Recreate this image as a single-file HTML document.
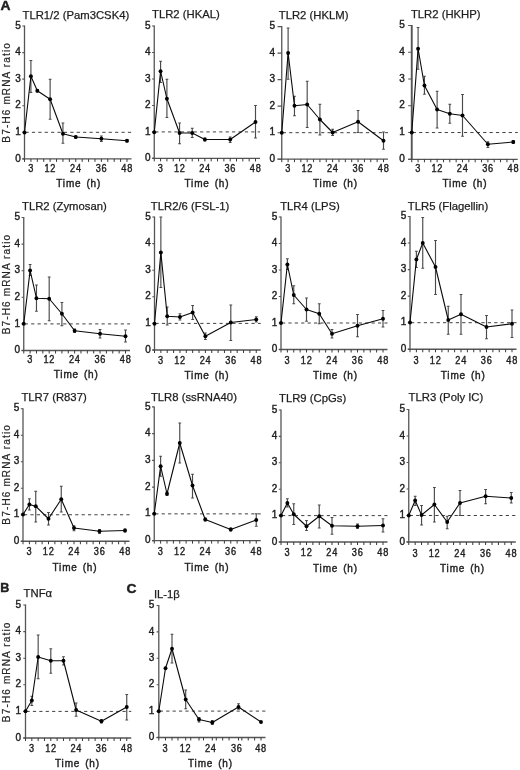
<!DOCTYPE html><html><head><meta charset="utf-8"><style>html,body{margin:0;padding:0;background:#fff;}svg{display:block;filter:blur(0.3px);}text{font-family:"Liberation Sans",sans-serif;stroke:#1e1e1e;stroke-width:0.4px;}</style></head><body>
<svg width="520" height="770" viewBox="0 0 520 770">
<rect width="520" height="770" fill="#fff"/>
<text transform="translate(0.6 10.4) scale(1.1 1)" font-size="12.6" font-weight="bold" fill="#1e1e1e">A</text>
<text x="0.3" y="592.0" font-size="12.6" font-weight="bold" fill="#1e1e1e">B</text>
<text transform="translate(126.5 592.8) scale(1.1 1)" font-size="12.6" font-weight="bold" fill="#1e1e1e">C</text>
<g><text x="22.5" y="18.5" font-size="11.3" fill="#1e1e1e" style="stroke-width:0.25px">TLR1/2 (Pam3CSK4)</text><path d="M24.5 25.5V158.9" stroke="#555555" stroke-width="1.3" fill="none"/><path d="M22.3 158.9H131.5" stroke="#555555" stroke-width="1.3" fill="none"/><text transform="translate(20.9 161.5)" font-size="10" text-anchor="end" fill="#1e1e1e">0</text><text transform="translate(20.9 134.92)" font-size="10" text-anchor="end" fill="#1e1e1e">1</text><text transform="translate(20.9 108.34)" font-size="10" text-anchor="end" fill="#1e1e1e">2</text><text transform="translate(20.9 81.76)" font-size="10" text-anchor="end" fill="#1e1e1e">3</text><text transform="translate(20.9 55.18)" font-size="10" text-anchor="end" fill="#1e1e1e">4</text><text transform="translate(20.9 28.6)" font-size="10" text-anchor="end" fill="#1e1e1e">5</text><path d="M22.3 158.9H24.5M22.3 132.32H24.5M22.3 105.74H24.5M22.3 79.16H24.5M22.3 52.58H24.5M22.3 26H24.5" stroke="#555555" stroke-width="1.1" fill="none"/><path d="M24.5 158.9v3M30.91 158.9v3M37.31 158.9v3M43.72 158.9v3M50.12 158.9v3M56.53 158.9v3M62.94 158.9v3M69.34 158.9v3M75.75 158.9v3M82.16 158.9v3M88.56 158.9v3M94.97 158.9v3M101.38 158.9v3M107.78 158.9v3M114.19 158.9v3M120.59 158.9v3M127 158.9v3" stroke="#3a3a3a" stroke-width="1" fill="none"/><text transform="translate(31.06 172.3) scale(0.9 1)" font-size="10.2" letter-spacing="0.8" text-anchor="middle" fill="#1e1e1e">3</text><text transform="translate(50.27 172.3) scale(0.9 1)" font-size="10.2" letter-spacing="0.8" text-anchor="middle" fill="#1e1e1e">12</text><text transform="translate(75.9 172.3) scale(0.9 1)" font-size="10.2" letter-spacing="0.8" text-anchor="middle" fill="#1e1e1e">24</text><text transform="translate(101.53 172.3) scale(0.9 1)" font-size="10.2" letter-spacing="0.8" text-anchor="middle" fill="#1e1e1e">36</text><text transform="translate(127.15 172.3) scale(0.9 1)" font-size="10.2" letter-spacing="0.8" text-anchor="middle" fill="#1e1e1e">48</text><text x="56.25" y="187.35" font-size="10" letter-spacing="0.85" word-spacing="1.3" fill="#1e1e1e">Time (h)</text><path d="M25.5 132.32H131.5" stroke="#2a2a2a" stroke-width="0.9" stroke-dasharray="3.2 3.2" fill="none"/><path d="M30.91 60.5V92.5M29.51 60.5h2.8M29.51 92.5h2.8M37.31 89.5V92M35.91 89.5h2.8M35.91 92h2.8M50.12 79.25V119.25M48.73 79.25h2.8M48.73 119.25h2.8M62.94 123V143.25M61.54 123h2.8M61.54 143.25h2.8M75.75 136V138.2M74.35 136h2.8M74.35 138.2h2.8M101.38 136V141.5M99.97 136h2.8M99.97 141.5h2.8M127 139.5V142M125.6 139.5h2.8M125.6 142h2.8" stroke="#4a4a4a" stroke-width="1.15" fill="none"/><polyline points="24.5,132.5 30.91,76.25 37.31,90.75 50.12,99.25 62.94,133.75 75.75,137 101.38,138.75 127,140.75" stroke="#0a0a0a" stroke-width="1.1" fill="none" stroke-linejoin="round"/><circle cx="24.5" cy="132.5" r="1.95" fill="#000"/><circle cx="30.91" cy="76.25" r="1.95" fill="#000"/><circle cx="37.31" cy="90.75" r="1.95" fill="#000"/><circle cx="50.12" cy="99.25" r="1.95" fill="#000"/><circle cx="62.94" cy="133.75" r="1.95" fill="#000"/><circle cx="75.75" cy="137" r="1.95" fill="#000"/><circle cx="101.38" cy="138.75" r="1.95" fill="#000"/><circle cx="127" cy="140.75" r="1.95" fill="#000"/></g>
<g><text x="152" y="18.3" font-size="11.3" fill="#1e1e1e" style="stroke-width:0.25px">TLR2 (HKAL)</text><path d="M154.25 25.5V158.4" stroke="#555555" stroke-width="1.3" fill="none"/><path d="M152.05 158.4H260" stroke="#555555" stroke-width="1.3" fill="none"/><text transform="translate(150.65 161)" font-size="10" text-anchor="end" fill="#1e1e1e">0</text><text transform="translate(150.65 134.52)" font-size="10" text-anchor="end" fill="#1e1e1e">1</text><text transform="translate(150.65 108.04)" font-size="10" text-anchor="end" fill="#1e1e1e">2</text><text transform="translate(150.65 81.56)" font-size="10" text-anchor="end" fill="#1e1e1e">3</text><text transform="translate(150.65 55.08)" font-size="10" text-anchor="end" fill="#1e1e1e">4</text><text transform="translate(150.65 28.6)" font-size="10" text-anchor="end" fill="#1e1e1e">5</text><path d="M152.05 158.4H154.25M152.05 131.92H154.25M152.05 105.44H154.25M152.05 78.96H154.25M152.05 52.48H154.25M152.05 26H154.25" stroke="#555555" stroke-width="1.1" fill="none"/><path d="M154.25 158.4v3M160.58 158.4v3M166.91 158.4v3M173.23 158.4v3M179.56 158.4v3M185.89 158.4v3M192.22 158.4v3M198.55 158.4v3M204.88 158.4v3M211.2 158.4v3M217.53 158.4v3M223.86 158.4v3M230.19 158.4v3M236.52 158.4v3M242.84 158.4v3M249.17 158.4v3M255.5 158.4v3" stroke="#3a3a3a" stroke-width="1" fill="none"/><text transform="translate(160.73 171.8) scale(0.9 1)" font-size="10.2" letter-spacing="0.8" text-anchor="middle" fill="#1e1e1e">3</text><text transform="translate(179.71 171.8) scale(0.9 1)" font-size="10.2" letter-spacing="0.8" text-anchor="middle" fill="#1e1e1e">12</text><text transform="translate(205.03 171.8) scale(0.9 1)" font-size="10.2" letter-spacing="0.8" text-anchor="middle" fill="#1e1e1e">24</text><text transform="translate(230.34 171.8) scale(0.9 1)" font-size="10.2" letter-spacing="0.8" text-anchor="middle" fill="#1e1e1e">36</text><text transform="translate(255.65 171.8) scale(0.9 1)" font-size="10.2" letter-spacing="0.8" text-anchor="middle" fill="#1e1e1e">48</text><text x="184.5" y="186.6" font-size="10" letter-spacing="0.85" word-spacing="1.3" fill="#1e1e1e">Time (h)</text><path d="M155.25 131.92H260" stroke="#2a2a2a" stroke-width="0.9" stroke-dasharray="3.2 3.2" fill="none"/><path d="M160.58 61.25V82.5M159.18 61.25h2.8M159.18 82.5h2.8M166.91 79.25V117.5M165.51 79.25h2.8M165.51 117.5h2.8M179.56 123V143.75M178.16 123h2.8M178.16 143.75h2.8M192.22 128.25V137.5M190.82 128.25h2.8M190.82 137.5h2.8M204.88 138V141M203.47 138h2.8M203.47 141h2.8M230.19 137V142.5M228.79 137h2.8M228.79 142.5h2.8M255.5 105.5V138M254.1 105.5h2.8M254.1 138h2.8" stroke="#4a4a4a" stroke-width="1.15" fill="none"/><polyline points="154.25,132.2 160.58,71.25 166.91,98.75 179.56,133 192.22,133 204.88,139.5 230.19,139.5 255.5,122" stroke="#0a0a0a" stroke-width="1.1" fill="none" stroke-linejoin="round"/><circle cx="154.25" cy="132.2" r="1.95" fill="#000"/><circle cx="160.58" cy="71.25" r="1.95" fill="#000"/><circle cx="166.91" cy="98.75" r="1.95" fill="#000"/><circle cx="179.56" cy="133" r="1.95" fill="#000"/><circle cx="192.22" cy="133" r="1.95" fill="#000"/><circle cx="204.88" cy="139.5" r="1.95" fill="#000"/><circle cx="230.19" cy="139.5" r="1.95" fill="#000"/><circle cx="255.5" cy="122" r="1.95" fill="#000"/></g>
<g><text x="278.75" y="18.8" font-size="11.3" fill="#1e1e1e" style="stroke-width:0.25px">TLR2 (HKLM)</text><path d="M281.75 26.1V159.2" stroke="#555555" stroke-width="1.3" fill="none"/><path d="M277.55 159.2H388" stroke="#555555" stroke-width="1.3" fill="none"/><text transform="translate(275.15 161.8)" font-size="10" text-anchor="end" fill="#1e1e1e">0</text><text transform="translate(275.15 135.28)" font-size="10" text-anchor="end" fill="#1e1e1e">1</text><text transform="translate(275.15 108.76)" font-size="10" text-anchor="end" fill="#1e1e1e">2</text><text transform="translate(275.15 82.24)" font-size="10" text-anchor="end" fill="#1e1e1e">3</text><text transform="translate(275.15 55.72)" font-size="10" text-anchor="end" fill="#1e1e1e">4</text><text transform="translate(275.15 29.2)" font-size="10" text-anchor="end" fill="#1e1e1e">5</text><path d="M277.55 159.2H281.75M277.55 132.68H281.75M277.55 106.16H281.75M277.55 79.64H281.75M277.55 53.12H281.75M277.55 26.6H281.75" stroke="#555555" stroke-width="1.1" fill="none"/><path d="M281.75 159.2v3M288.11 159.2v3M294.47 159.2v3M300.83 159.2v3M307.19 159.2v3M313.55 159.2v3M319.91 159.2v3M326.27 159.2v3M332.62 159.2v3M338.98 159.2v3M345.34 159.2v3M351.7 159.2v3M358.06 159.2v3M364.42 159.2v3M370.78 159.2v3M377.14 159.2v3M383.5 159.2v3" stroke="#3a3a3a" stroke-width="1" fill="none"/><text transform="translate(288.26 172.3) scale(0.9 1)" font-size="10.2" letter-spacing="0.8" text-anchor="middle" fill="#1e1e1e">3</text><text transform="translate(307.34 172.3) scale(0.9 1)" font-size="10.2" letter-spacing="0.8" text-anchor="middle" fill="#1e1e1e">12</text><text transform="translate(332.77 172.3) scale(0.9 1)" font-size="10.2" letter-spacing="0.8" text-anchor="middle" fill="#1e1e1e">24</text><text transform="translate(358.21 172.3) scale(0.9 1)" font-size="10.2" letter-spacing="0.8" text-anchor="middle" fill="#1e1e1e">36</text><text transform="translate(383.65 172.3) scale(0.9 1)" font-size="10.2" letter-spacing="0.8" text-anchor="middle" fill="#1e1e1e">48</text><text x="313" y="186.6" font-size="10" letter-spacing="0.85" word-spacing="1.3" fill="#1e1e1e">Time (h)</text><path d="M282.75 132.68H388" stroke="#2a2a2a" stroke-width="0.9" stroke-dasharray="3.2 3.2" fill="none"/><path d="M288.11 28V79.25M286.71 28h2.8M286.71 79.25h2.8M294.47 96.25V115.75M293.07 96.25h2.8M293.07 115.75h2.8M307.19 81.25V127.5M305.79 81.25h2.8M305.79 127.5h2.8M319.91 104.25V135M318.51 104.25h2.8M318.51 135h2.8M332.62 129.25V135.5M331.23 129.25h2.8M331.23 135.5h2.8M358.06 110.5V132.5M356.66 110.5h2.8M356.66 132.5h2.8M383.5 132V149.25M382.1 132h2.8M382.1 149.25h2.8" stroke="#4a4a4a" stroke-width="1.15" fill="none"/><polyline points="281.75,132.8 288.11,53 294.47,105.75 307.19,104.5 319.91,119.5 332.62,132.5 358.06,121.75 383.5,140.75" stroke="#0a0a0a" stroke-width="1.1" fill="none" stroke-linejoin="round"/><circle cx="281.75" cy="132.8" r="1.95" fill="#000"/><circle cx="288.11" cy="53" r="1.95" fill="#000"/><circle cx="294.47" cy="105.75" r="1.95" fill="#000"/><circle cx="307.19" cy="104.5" r="1.95" fill="#000"/><circle cx="319.91" cy="119.5" r="1.95" fill="#000"/><circle cx="332.62" cy="132.5" r="1.95" fill="#000"/><circle cx="358.06" cy="121.75" r="1.95" fill="#000"/><circle cx="383.5" cy="140.75" r="1.95" fill="#000"/></g>
<g><text x="410.9" y="18.3" font-size="11.3" fill="#1e1e1e" style="stroke-width:0.25px">TLR2 (HKHP)</text><path d="M411.75 25V159.3" stroke="#555555" stroke-width="1.9" fill="none"/><path d="M408.15 159.3H517.75" stroke="#555555" stroke-width="1.3" fill="none"/><text transform="translate(404.75 161.9)" font-size="10" text-anchor="end" fill="#1e1e1e">0</text><text transform="translate(404.75 135.14)" font-size="10" text-anchor="end" fill="#1e1e1e">1</text><text transform="translate(404.75 108.38)" font-size="10" text-anchor="end" fill="#1e1e1e">2</text><text transform="translate(404.75 81.62)" font-size="10" text-anchor="end" fill="#1e1e1e">3</text><text transform="translate(404.75 54.86)" font-size="10" text-anchor="end" fill="#1e1e1e">4</text><text transform="translate(404.75 28.1)" font-size="10" text-anchor="end" fill="#1e1e1e">5</text><path d="M408.15 159.3H411.75M408.15 132.54H411.75M408.15 105.78H411.75M408.15 79.02H411.75M408.15 52.26H411.75M408.15 25.5H411.75" stroke="#555555" stroke-width="1.1" fill="none"/><path d="M411.75 159.3v3M418.09 159.3v3M424.44 159.3v3M430.78 159.3v3M437.12 159.3v3M443.47 159.3v3M449.81 159.3v3M456.16 159.3v3M462.5 159.3v3M468.84 159.3v3M475.19 159.3v3M481.53 159.3v3M487.88 159.3v3M494.22 159.3v3M500.56 159.3v3M506.91 159.3v3M513.25 159.3v3" stroke="#3a3a3a" stroke-width="1" fill="none"/><text transform="translate(418.24 172.3) scale(0.9 1)" font-size="10.2" letter-spacing="0.8" text-anchor="middle" fill="#1e1e1e">3</text><text transform="translate(437.27 172.3) scale(0.9 1)" font-size="10.2" letter-spacing="0.8" text-anchor="middle" fill="#1e1e1e">12</text><text transform="translate(462.65 172.3) scale(0.9 1)" font-size="10.2" letter-spacing="0.8" text-anchor="middle" fill="#1e1e1e">24</text><text transform="translate(488.02 172.3) scale(0.9 1)" font-size="10.2" letter-spacing="0.8" text-anchor="middle" fill="#1e1e1e">36</text><text transform="translate(513.4 172.3) scale(0.9 1)" font-size="10.2" letter-spacing="0.8" text-anchor="middle" fill="#1e1e1e">48</text><text x="442.5" y="186.6" font-size="10" letter-spacing="0.85" word-spacing="1.3" fill="#1e1e1e">Time (h)</text><path d="M412.75 132.54H517.75" stroke="#2a2a2a" stroke-width="0.9" stroke-dasharray="3.2 3.2" fill="none"/><path d="M418.09 27.5V69.25M416.69 27.5h2.8M416.69 69.25h2.8M424.44 76.25V94.25M423.04 76.25h2.8M423.04 94.25h2.8M437.12 91.25V128M435.73 91.25h2.8M435.73 128h2.8M449.81 104.25V123.25M448.41 104.25h2.8M448.41 123.25h2.8M462.5 94.5V136.25M461.1 94.5h2.8M461.1 136.25h2.8M487.88 141.75V147.5M486.48 141.75h2.8M486.48 147.5h2.8M513.25 140.5V143.5M511.85 140.5h2.8M511.85 143.5h2.8" stroke="#4a4a4a" stroke-width="1.15" fill="none"/><polyline points="411.75,132.5 418.09,48.75 424.44,85.5 437.12,109.5 449.81,113.75 462.5,115.5 487.88,144.25 513.25,142" stroke="#0a0a0a" stroke-width="1.1" fill="none" stroke-linejoin="round"/><circle cx="411.75" cy="132.5" r="1.95" fill="#000"/><circle cx="418.09" cy="48.75" r="1.95" fill="#000"/><circle cx="424.44" cy="85.5" r="1.95" fill="#000"/><circle cx="437.12" cy="109.5" r="1.95" fill="#000"/><circle cx="449.81" cy="113.75" r="1.95" fill="#000"/><circle cx="462.5" cy="115.5" r="1.95" fill="#000"/><circle cx="487.88" cy="144.25" r="1.95" fill="#000"/><circle cx="513.25" cy="142" r="1.95" fill="#000"/></g>
<g><text x="22" y="210" font-size="11.3" fill="#1e1e1e" style="stroke-width:0.25px">TLR2 (Zymosan)</text><path d="M23.75 217V350.5" stroke="#555555" stroke-width="1.3" fill="none"/><path d="M21.55 350.5H130" stroke="#555555" stroke-width="1.3" fill="none"/><text transform="translate(20.15 353.1)" font-size="10" text-anchor="end" fill="#1e1e1e">0</text><text transform="translate(20.15 326.5)" font-size="10" text-anchor="end" fill="#1e1e1e">1</text><text transform="translate(20.15 299.9)" font-size="10" text-anchor="end" fill="#1e1e1e">2</text><text transform="translate(20.15 273.3)" font-size="10" text-anchor="end" fill="#1e1e1e">3</text><text transform="translate(20.15 246.7)" font-size="10" text-anchor="end" fill="#1e1e1e">4</text><text transform="translate(20.15 220.1)" font-size="10" text-anchor="end" fill="#1e1e1e">5</text><path d="M21.55 350.5H23.75M21.55 323.9H23.75M21.55 297.3H23.75M21.55 270.7H23.75M21.55 244.1H23.75M21.55 217.5H23.75" stroke="#555555" stroke-width="1.1" fill="none"/><path d="M23.75 350.5v3M30.11 350.5v3M36.47 350.5v3M42.83 350.5v3M49.19 350.5v3M55.55 350.5v3M61.91 350.5v3M68.27 350.5v3M74.62 350.5v3M80.98 350.5v3M87.34 350.5v3M93.7 350.5v3M100.06 350.5v3M106.42 350.5v3M112.78 350.5v3M119.14 350.5v3M125.5 350.5v3" stroke="#3a3a3a" stroke-width="1" fill="none"/><text transform="translate(30.26 363.3) scale(0.9 1)" font-size="10.2" letter-spacing="0.8" text-anchor="middle" fill="#1e1e1e">3</text><text transform="translate(49.34 363.3) scale(0.9 1)" font-size="10.2" letter-spacing="0.8" text-anchor="middle" fill="#1e1e1e">12</text><text transform="translate(74.78 363.3) scale(0.9 1)" font-size="10.2" letter-spacing="0.8" text-anchor="middle" fill="#1e1e1e">24</text><text transform="translate(100.21 363.3) scale(0.9 1)" font-size="10.2" letter-spacing="0.8" text-anchor="middle" fill="#1e1e1e">36</text><text transform="translate(125.65 363.3) scale(0.9 1)" font-size="10.2" letter-spacing="0.8" text-anchor="middle" fill="#1e1e1e">48</text><text x="53.75" y="377.85" font-size="10" letter-spacing="0.85" word-spacing="1.3" fill="#1e1e1e">Time (h)</text><path d="M24.75 323.9H130" stroke="#2a2a2a" stroke-width="0.9" stroke-dasharray="3.2 3.2" fill="none"/><path d="M30.11 264.5V275.5M28.71 264.5h2.8M28.71 275.5h2.8M36.47 285V311.25M35.07 285h2.8M35.07 311.25h2.8M49.19 277V320.75M47.79 277h2.8M47.79 320.75h2.8M61.91 302.5V325.75M60.51 302.5h2.8M60.51 325.75h2.8M74.62 329V332.5M73.22 329h2.8M73.22 332.5h2.8M100.06 329.5V338M98.66 329.5h2.8M98.66 338h2.8M125.5 330V342M124.1 330h2.8M124.1 342h2.8" stroke="#4a4a4a" stroke-width="1.15" fill="none"/><polyline points="23.75,323.75 30.11,270.5 36.47,298.25 49.19,298.75 61.91,313.75 74.62,330.75 100.06,333.75 125.5,336.25" stroke="#0a0a0a" stroke-width="1.1" fill="none" stroke-linejoin="round"/><circle cx="23.75" cy="323.75" r="1.95" fill="#000"/><circle cx="30.11" cy="270.5" r="1.95" fill="#000"/><circle cx="36.47" cy="298.25" r="1.95" fill="#000"/><circle cx="49.19" cy="298.75" r="1.95" fill="#000"/><circle cx="61.91" cy="313.75" r="1.95" fill="#000"/><circle cx="74.62" cy="330.75" r="1.95" fill="#000"/><circle cx="100.06" cy="333.75" r="1.95" fill="#000"/><circle cx="125.5" cy="336.25" r="1.95" fill="#000"/></g>
<g><text x="150.8" y="209.6" font-size="11.3" fill="#1e1e1e" style="stroke-width:0.25px">TLR2/6 (FSL-1)</text><path d="M154.5 216.5V350" stroke="#555555" stroke-width="1.3" fill="none"/><path d="M152.3 350H260.75" stroke="#555555" stroke-width="1.3" fill="none"/><text transform="translate(150.9 352.6)" font-size="10" text-anchor="end" fill="#1e1e1e">0</text><text transform="translate(150.9 326)" font-size="10" text-anchor="end" fill="#1e1e1e">1</text><text transform="translate(150.9 299.4)" font-size="10" text-anchor="end" fill="#1e1e1e">2</text><text transform="translate(150.9 272.8)" font-size="10" text-anchor="end" fill="#1e1e1e">3</text><text transform="translate(150.9 246.2)" font-size="10" text-anchor="end" fill="#1e1e1e">4</text><text transform="translate(150.9 219.6)" font-size="10" text-anchor="end" fill="#1e1e1e">5</text><path d="M152.3 350H154.5M152.3 323.4H154.5M152.3 296.8H154.5M152.3 270.2H154.5M152.3 243.6H154.5M152.3 217H154.5" stroke="#555555" stroke-width="1.1" fill="none"/><path d="M154.5 350v3M160.86 350v3M167.22 350v3M173.58 350v3M179.94 350v3M186.3 350v3M192.66 350v3M199.02 350v3M205.38 350v3M211.73 350v3M218.09 350v3M224.45 350v3M230.81 350v3M237.17 350v3M243.53 350v3M249.89 350v3M256.25 350v3" stroke="#3a3a3a" stroke-width="1" fill="none"/><text transform="translate(161.01 364.3) scale(0.9 1)" font-size="10.2" letter-spacing="0.8" text-anchor="middle" fill="#1e1e1e">3</text><text transform="translate(180.09 364.3) scale(0.9 1)" font-size="10.2" letter-spacing="0.8" text-anchor="middle" fill="#1e1e1e">12</text><text transform="translate(205.53 364.3) scale(0.9 1)" font-size="10.2" letter-spacing="0.8" text-anchor="middle" fill="#1e1e1e">24</text><text transform="translate(230.96 364.3) scale(0.9 1)" font-size="10.2" letter-spacing="0.8" text-anchor="middle" fill="#1e1e1e">36</text><text transform="translate(256.4 364.3) scale(0.9 1)" font-size="10.2" letter-spacing="0.8" text-anchor="middle" fill="#1e1e1e">48</text><text x="184.5" y="378.6" font-size="10" letter-spacing="0.85" word-spacing="1.3" fill="#1e1e1e">Time (h)</text><path d="M155.5 323.4H260.75" stroke="#2a2a2a" stroke-width="0.9" stroke-dasharray="3.2 3.2" fill="none"/><path d="M160.86 217V287.5M159.46 217h2.8M159.46 287.5h2.8M167.22 307V325M165.82 307h2.8M165.82 325h2.8M179.94 313.75V320M178.54 313.75h2.8M178.54 320h2.8M192.66 305.5V319.5M191.26 305.5h2.8M191.26 319.5h2.8M205.38 333V339.5M203.97 333h2.8M203.97 339.5h2.8M230.81 305V340.5M229.41 305h2.8M229.41 340.5h2.8M256.25 316.75V322M254.85 316.75h2.8M254.85 322h2.8" stroke="#4a4a4a" stroke-width="1.15" fill="none"/><polyline points="154.5,323.75 160.86,252.5 167.22,316.25 179.94,317 192.66,312.5 205.38,336.25 230.81,322.5 256.25,319.5" stroke="#0a0a0a" stroke-width="1.1" fill="none" stroke-linejoin="round"/><circle cx="154.5" cy="323.75" r="1.95" fill="#000"/><circle cx="160.86" cy="252.5" r="1.95" fill="#000"/><circle cx="167.22" cy="316.25" r="1.95" fill="#000"/><circle cx="179.94" cy="317" r="1.95" fill="#000"/><circle cx="192.66" cy="312.5" r="1.95" fill="#000"/><circle cx="205.38" cy="336.25" r="1.95" fill="#000"/><circle cx="230.81" cy="322.5" r="1.95" fill="#000"/><circle cx="256.25" cy="319.5" r="1.95" fill="#000"/></g>
<g><text x="280.2" y="210" font-size="11.3" fill="#1e1e1e" style="stroke-width:0.25px">TLR4 (LPS)</text><path d="M281 216.5V349.5" stroke="#555555" stroke-width="1.3" fill="none"/><path d="M278.8 349.5H387.5" stroke="#555555" stroke-width="1.3" fill="none"/><text transform="translate(277.4 352.1)" font-size="10" text-anchor="end" fill="#1e1e1e">0</text><text transform="translate(277.4 325.6)" font-size="10" text-anchor="end" fill="#1e1e1e">1</text><text transform="translate(277.4 299.1)" font-size="10" text-anchor="end" fill="#1e1e1e">2</text><text transform="translate(277.4 272.6)" font-size="10" text-anchor="end" fill="#1e1e1e">3</text><text transform="translate(277.4 246.1)" font-size="10" text-anchor="end" fill="#1e1e1e">4</text><text transform="translate(277.4 219.6)" font-size="10" text-anchor="end" fill="#1e1e1e">5</text><path d="M278.8 349.5H281M278.8 323H281M278.8 296.5H281M278.8 270H281M278.8 243.5H281M278.8 217H281" stroke="#555555" stroke-width="1.1" fill="none"/><path d="M281 349.5v3M287.38 349.5v3M293.75 349.5v3M300.12 349.5v3M306.5 349.5v3M312.88 349.5v3M319.25 349.5v3M325.62 349.5v3M332 349.5v3M338.38 349.5v3M344.75 349.5v3M351.12 349.5v3M357.5 349.5v3M363.88 349.5v3M370.25 349.5v3M376.62 349.5v3M383 349.5v3" stroke="#3a3a3a" stroke-width="1" fill="none"/><text transform="translate(287.52 363.55) scale(0.9 1)" font-size="10.2" letter-spacing="0.8" text-anchor="middle" fill="#1e1e1e">3</text><text transform="translate(306.65 363.55) scale(0.9 1)" font-size="10.2" letter-spacing="0.8" text-anchor="middle" fill="#1e1e1e">12</text><text transform="translate(332.15 363.55) scale(0.9 1)" font-size="10.2" letter-spacing="0.8" text-anchor="middle" fill="#1e1e1e">24</text><text transform="translate(357.65 363.55) scale(0.9 1)" font-size="10.2" letter-spacing="0.8" text-anchor="middle" fill="#1e1e1e">36</text><text transform="translate(383.15 363.55) scale(0.9 1)" font-size="10.2" letter-spacing="0.8" text-anchor="middle" fill="#1e1e1e">48</text><text x="313" y="379.1" font-size="10" letter-spacing="0.85" word-spacing="1.3" fill="#1e1e1e">Time (h)</text><path d="M282 323H387.5" stroke="#2a2a2a" stroke-width="0.9" stroke-dasharray="3.2 3.2" fill="none"/><path d="M287.38 258.75V269.5M285.98 258.75h2.8M285.98 269.5h2.8M293.75 285.75V303.75M292.35 285.75h2.8M292.35 303.75h2.8M306.5 298V321.25M305.1 298h2.8M305.1 321.25h2.8M319.25 303.75V323.75M317.85 303.75h2.8M317.85 323.75h2.8M332 329.5V338M330.6 329.5h2.8M330.6 338h2.8M357.5 314.5V336.75M356.1 314.5h2.8M356.1 336.75h2.8M383 310.5V327M381.6 310.5h2.8M381.6 327h2.8" stroke="#4a4a4a" stroke-width="1.15" fill="none"/><polyline points="281,323 287.38,264.5 293.75,295 306.5,309.5 319.25,313.75 332,333.75 357.5,325.75 383,318.75" stroke="#0a0a0a" stroke-width="1.1" fill="none" stroke-linejoin="round"/><circle cx="281" cy="323" r="1.95" fill="#000"/><circle cx="287.38" cy="264.5" r="1.95" fill="#000"/><circle cx="293.75" cy="295" r="1.95" fill="#000"/><circle cx="306.5" cy="309.5" r="1.95" fill="#000"/><circle cx="319.25" cy="313.75" r="1.95" fill="#000"/><circle cx="332" cy="333.75" r="1.95" fill="#000"/><circle cx="357.5" cy="325.75" r="1.95" fill="#000"/><circle cx="383" cy="318.75" r="1.95" fill="#000"/></g>
<g><text x="407.8" y="210" font-size="11.3" fill="#1e1e1e" style="stroke-width:0.25px">TLR5 (Flagellin)</text><path d="M410 216V349.25" stroke="#555555" stroke-width="1.3" fill="none"/><path d="M407.8 349.25H516.5" stroke="#555555" stroke-width="1.3" fill="none"/><text transform="translate(406.4 351.85)" font-size="10" text-anchor="end" fill="#1e1e1e">0</text><text transform="translate(406.4 325.3)" font-size="10" text-anchor="end" fill="#1e1e1e">1</text><text transform="translate(406.4 298.75)" font-size="10" text-anchor="end" fill="#1e1e1e">2</text><text transform="translate(406.4 272.2)" font-size="10" text-anchor="end" fill="#1e1e1e">3</text><text transform="translate(406.4 245.65)" font-size="10" text-anchor="end" fill="#1e1e1e">4</text><text transform="translate(406.4 219.1)" font-size="10" text-anchor="end" fill="#1e1e1e">5</text><path d="M407.8 349.25H410M407.8 322.7H410M407.8 296.15H410M407.8 269.6H410M407.8 243.05H410M407.8 216.5H410" stroke="#555555" stroke-width="1.1" fill="none"/><path d="M410 349.25v3M416.38 349.25v3M422.75 349.25v3M429.12 349.25v3M435.5 349.25v3M441.88 349.25v3M448.25 349.25v3M454.62 349.25v3M461 349.25v3M467.38 349.25v3M473.75 349.25v3M480.12 349.25v3M486.5 349.25v3M492.88 349.25v3M499.25 349.25v3M505.62 349.25v3M512 349.25v3" stroke="#3a3a3a" stroke-width="1" fill="none"/><text transform="translate(416.52 363.55) scale(0.9 1)" font-size="10.2" letter-spacing="0.8" text-anchor="middle" fill="#1e1e1e">3</text><text transform="translate(435.65 363.55) scale(0.9 1)" font-size="10.2" letter-spacing="0.8" text-anchor="middle" fill="#1e1e1e">12</text><text transform="translate(461.15 363.55) scale(0.9 1)" font-size="10.2" letter-spacing="0.8" text-anchor="middle" fill="#1e1e1e">24</text><text transform="translate(486.65 363.55) scale(0.9 1)" font-size="10.2" letter-spacing="0.8" text-anchor="middle" fill="#1e1e1e">36</text><text transform="translate(512.15 363.55) scale(0.9 1)" font-size="10.2" letter-spacing="0.8" text-anchor="middle" fill="#1e1e1e">48</text><text x="440.75" y="379.1" font-size="10" letter-spacing="0.85" word-spacing="1.3" fill="#1e1e1e">Time (h)</text><path d="M411 322.7H516.5" stroke="#2a2a2a" stroke-width="0.9" stroke-dasharray="3.2 3.2" fill="none"/><path d="M416.38 251.25V267.5M414.98 251.25h2.8M414.98 267.5h2.8M422.75 217.5V268.25M421.35 217.5h2.8M421.35 268.25h2.8M435.5 240.5V294.5M434.1 240.5h2.8M434.1 294.5h2.8M448.25 306.25V334.25M446.85 306.25h2.8M446.85 334.25h2.8M461 294.5V334.25M459.6 294.5h2.8M459.6 334.25h2.8M486.5 315.5V338.75M485.1 315.5h2.8M485.1 338.75h2.8M512 310V337.5M510.6 310h2.8M510.6 337.5h2.8" stroke="#4a4a4a" stroke-width="1.15" fill="none"/><polyline points="410,322.5 416.38,259.5 422.75,243 435.5,267 448.25,320 461,314.25 486.5,327 512,323.75" stroke="#0a0a0a" stroke-width="1.1" fill="none" stroke-linejoin="round"/><circle cx="410" cy="322.5" r="1.95" fill="#000"/><circle cx="416.38" cy="259.5" r="1.95" fill="#000"/><circle cx="422.75" cy="243" r="1.95" fill="#000"/><circle cx="435.5" cy="267" r="1.95" fill="#000"/><circle cx="448.25" cy="320" r="1.95" fill="#000"/><circle cx="461" cy="314.25" r="1.95" fill="#000"/><circle cx="486.5" cy="327" r="1.95" fill="#000"/><circle cx="512" cy="323.75" r="1.95" fill="#000"/></g>
<g><text x="21.4" y="400.8" font-size="11.3" fill="#1e1e1e" style="stroke-width:0.25px">TLR7 (R837)</text><path d="M23 408.25V541.25" stroke="#555555" stroke-width="1.3" fill="none"/><path d="M20.8 541.25H129.5" stroke="#555555" stroke-width="1.3" fill="none"/><text transform="translate(19.4 543.85)" font-size="10" text-anchor="end" fill="#1e1e1e">0</text><text transform="translate(19.4 517.35)" font-size="10" text-anchor="end" fill="#1e1e1e">1</text><text transform="translate(19.4 490.85)" font-size="10" text-anchor="end" fill="#1e1e1e">2</text><text transform="translate(19.4 464.35)" font-size="10" text-anchor="end" fill="#1e1e1e">3</text><text transform="translate(19.4 437.85)" font-size="10" text-anchor="end" fill="#1e1e1e">4</text><text transform="translate(19.4 411.35)" font-size="10" text-anchor="end" fill="#1e1e1e">5</text><path d="M20.8 541.25H23M20.8 514.75H23M20.8 488.25H23M20.8 461.75H23M20.8 435.25H23M20.8 408.75H23" stroke="#555555" stroke-width="1.1" fill="none"/><path d="M23 541.25v3M29.38 541.25v3M35.75 541.25v3M42.12 541.25v3M48.5 541.25v3M54.88 541.25v3M61.25 541.25v3M67.62 541.25v3M74 541.25v3M80.38 541.25v3M86.75 541.25v3M93.12 541.25v3M99.5 541.25v3M105.88 541.25v3M112.25 541.25v3M118.62 541.25v3M125 541.25v3" stroke="#3a3a3a" stroke-width="1" fill="none"/><text transform="translate(29.52 555.3) scale(0.9 1)" font-size="10.2" letter-spacing="0.8" text-anchor="middle" fill="#1e1e1e">3</text><text transform="translate(48.65 555.3) scale(0.9 1)" font-size="10.2" letter-spacing="0.8" text-anchor="middle" fill="#1e1e1e">12</text><text transform="translate(74.15 555.3) scale(0.9 1)" font-size="10.2" letter-spacing="0.8" text-anchor="middle" fill="#1e1e1e">24</text><text transform="translate(99.65 555.3) scale(0.9 1)" font-size="10.2" letter-spacing="0.8" text-anchor="middle" fill="#1e1e1e">36</text><text transform="translate(125.15 555.3) scale(0.9 1)" font-size="10.2" letter-spacing="0.8" text-anchor="middle" fill="#1e1e1e">48</text><text x="52.5" y="570.6" font-size="10" letter-spacing="0.85" word-spacing="1.3" fill="#1e1e1e">Time (h)</text><path d="M24 514.75H129.5" stroke="#2a2a2a" stroke-width="0.9" stroke-dasharray="3.2 3.2" fill="none"/><path d="M29.38 498.75V510M27.98 498.75h2.8M27.98 510h2.8M35.75 491.25V522M34.35 491.25h2.8M34.35 522h2.8M48.5 512.5V525M47.1 512.5h2.8M47.1 525h2.8M61.25 486.25V512M59.85 486.25h2.8M59.85 512h2.8M74 525.75V530.75M72.6 525.75h2.8M72.6 530.75h2.8M99.5 529.5V533.5M98.1 529.5h2.8M98.1 533.5h2.8M125 529V532M123.6 529h2.8M123.6 532h2.8" stroke="#4a4a4a" stroke-width="1.15" fill="none"/><polyline points="23,514.5 29.38,504.5 35.75,506.25 48.5,518.75 61.25,499.25 74,528 99.5,531.25 125,530.5" stroke="#0a0a0a" stroke-width="1.1" fill="none" stroke-linejoin="round"/><circle cx="23" cy="514.5" r="1.95" fill="#000"/><circle cx="29.38" cy="504.5" r="1.95" fill="#000"/><circle cx="35.75" cy="506.25" r="1.95" fill="#000"/><circle cx="48.5" cy="518.75" r="1.95" fill="#000"/><circle cx="61.25" cy="499.25" r="1.95" fill="#000"/><circle cx="74" cy="528" r="1.95" fill="#000"/><circle cx="99.5" cy="531.25" r="1.95" fill="#000"/><circle cx="125" cy="530.5" r="1.95" fill="#000"/></g>
<g><text x="150.9" y="400.5" font-size="11.3" fill="#1e1e1e" style="stroke-width:0.25px">TLR8 (ssRNA40)</text><path d="M154.25 406.4V540.6" stroke="#555555" stroke-width="1.3" fill="none"/><path d="M152.05 540.6H260.75" stroke="#555555" stroke-width="1.3" fill="none"/><text transform="translate(150.65 543.2)" font-size="10" text-anchor="end" fill="#1e1e1e">0</text><text transform="translate(150.65 516.46)" font-size="10" text-anchor="end" fill="#1e1e1e">1</text><text transform="translate(150.65 489.72)" font-size="10" text-anchor="end" fill="#1e1e1e">2</text><text transform="translate(150.65 462.98)" font-size="10" text-anchor="end" fill="#1e1e1e">3</text><text transform="translate(150.65 436.24)" font-size="10" text-anchor="end" fill="#1e1e1e">4</text><text transform="translate(150.65 409.5)" font-size="10" text-anchor="end" fill="#1e1e1e">5</text><path d="M152.05 540.6H154.25M152.05 513.86H154.25M152.05 487.12H154.25M152.05 460.38H154.25M152.05 433.64H154.25M152.05 406.9H154.25" stroke="#555555" stroke-width="1.1" fill="none"/><path d="M154.25 540.6v3M160.62 540.6v3M167 540.6v3M173.38 540.6v3M179.75 540.6v3M186.12 540.6v3M192.5 540.6v3M198.88 540.6v3M205.25 540.6v3M211.62 540.6v3M218 540.6v3M224.38 540.6v3M230.75 540.6v3M237.12 540.6v3M243.5 540.6v3M249.88 540.6v3M256.25 540.6v3" stroke="#3a3a3a" stroke-width="1" fill="none"/><text transform="translate(160.78 554.8) scale(0.9 1)" font-size="10.2" letter-spacing="0.8" text-anchor="middle" fill="#1e1e1e">3</text><text transform="translate(179.9 554.8) scale(0.9 1)" font-size="10.2" letter-spacing="0.8" text-anchor="middle" fill="#1e1e1e">12</text><text transform="translate(205.4 554.8) scale(0.9 1)" font-size="10.2" letter-spacing="0.8" text-anchor="middle" fill="#1e1e1e">24</text><text transform="translate(230.9 554.8) scale(0.9 1)" font-size="10.2" letter-spacing="0.8" text-anchor="middle" fill="#1e1e1e">36</text><text transform="translate(256.4 554.8) scale(0.9 1)" font-size="10.2" letter-spacing="0.8" text-anchor="middle" fill="#1e1e1e">48</text><text x="184.5" y="570.6" font-size="10" letter-spacing="0.85" word-spacing="1.3" fill="#1e1e1e">Time (h)</text><path d="M155.25 513.86H260.75" stroke="#2a2a2a" stroke-width="0.9" stroke-dasharray="3.2 3.2" fill="none"/><path d="M160.62 456.25V476.25M159.22 456.25h2.8M159.22 476.25h2.8M167 492V495.5M165.6 492h2.8M165.6 495.5h2.8M179.75 423V463M178.35 423h2.8M178.35 463h2.8M192.5 474.25V498M191.1 474.25h2.8M191.1 498h2.8M205.25 518V521M203.85 518h2.8M203.85 521h2.8M230.75 528V531M229.35 528h2.8M229.35 531h2.8M256.25 513.75V526.25M254.85 513.75h2.8M254.85 526.25h2.8" stroke="#4a4a4a" stroke-width="1.15" fill="none"/><polyline points="154.25,513.75 160.62,466.25 167,493.75 179.75,443 192.5,485.5 205.25,519.5 230.75,529.5 256.25,520" stroke="#0a0a0a" stroke-width="1.1" fill="none" stroke-linejoin="round"/><circle cx="154.25" cy="513.75" r="1.95" fill="#000"/><circle cx="160.62" cy="466.25" r="1.95" fill="#000"/><circle cx="167" cy="493.75" r="1.95" fill="#000"/><circle cx="179.75" cy="443" r="1.95" fill="#000"/><circle cx="192.5" cy="485.5" r="1.95" fill="#000"/><circle cx="205.25" cy="519.5" r="1.95" fill="#000"/><circle cx="230.75" cy="529.5" r="1.95" fill="#000"/><circle cx="256.25" cy="520" r="1.95" fill="#000"/></g>
<g><text x="279" y="401.6" font-size="11.3" fill="#1e1e1e" style="stroke-width:0.25px">TLR9 (CpGs)</text><path d="M281 409.5V542" stroke="#555555" stroke-width="1.3" fill="none"/><path d="M278.8 542H387.5" stroke="#555555" stroke-width="1.3" fill="none"/><text transform="translate(277.4 544.6)" font-size="10" text-anchor="end" fill="#1e1e1e">0</text><text transform="translate(277.4 518.2)" font-size="10" text-anchor="end" fill="#1e1e1e">1</text><text transform="translate(277.4 491.8)" font-size="10" text-anchor="end" fill="#1e1e1e">2</text><text transform="translate(277.4 465.4)" font-size="10" text-anchor="end" fill="#1e1e1e">3</text><text transform="translate(277.4 439)" font-size="10" text-anchor="end" fill="#1e1e1e">4</text><text transform="translate(277.4 412.6)" font-size="10" text-anchor="end" fill="#1e1e1e">5</text><path d="M278.8 542H281M278.8 515.6H281M278.8 489.2H281M278.8 462.8H281M278.8 436.4H281M278.8 410H281" stroke="#555555" stroke-width="1.1" fill="none"/><path d="M281 542v3M287.38 542v3M293.75 542v3M300.12 542v3M306.5 542v3M312.88 542v3M319.25 542v3M325.62 542v3M332 542v3M338.38 542v3M344.75 542v3M351.12 542v3M357.5 542v3M363.88 542v3M370.25 542v3M376.62 542v3M383 542v3" stroke="#3a3a3a" stroke-width="1" fill="none"/><text transform="translate(287.52 556.05) scale(0.9 1)" font-size="10.2" letter-spacing="0.8" text-anchor="middle" fill="#1e1e1e">3</text><text transform="translate(306.65 556.05) scale(0.9 1)" font-size="10.2" letter-spacing="0.8" text-anchor="middle" fill="#1e1e1e">12</text><text transform="translate(332.15 556.05) scale(0.9 1)" font-size="10.2" letter-spacing="0.8" text-anchor="middle" fill="#1e1e1e">24</text><text transform="translate(357.65 556.05) scale(0.9 1)" font-size="10.2" letter-spacing="0.8" text-anchor="middle" fill="#1e1e1e">36</text><text transform="translate(383.15 556.05) scale(0.9 1)" font-size="10.2" letter-spacing="0.8" text-anchor="middle" fill="#1e1e1e">48</text><text x="313" y="571.85" font-size="10" letter-spacing="0.85" word-spacing="1.3" fill="#1e1e1e">Time (h)</text><path d="M282 515.6H387.5" stroke="#2a2a2a" stroke-width="0.9" stroke-dasharray="3.2 3.2" fill="none"/><path d="M287.38 498.75V507M285.98 498.75h2.8M285.98 507h2.8M293.75 503.75V524.5M292.35 503.75h2.8M292.35 524.5h2.8M306.5 520.5V530.5M305.1 520.5h2.8M305.1 530.5h2.8M319.25 505V528M317.85 505h2.8M317.85 528h2.8M332 517.5V534.25M330.6 517.5h2.8M330.6 534.25h2.8M357.5 524V528.5M356.1 524h2.8M356.1 528.5h2.8M383 518.75V532M381.6 518.75h2.8M381.6 532h2.8" stroke="#4a4a4a" stroke-width="1.15" fill="none"/><polyline points="281,515.5 287.38,503 293.75,514.25 306.5,526.25 319.25,516.25 332,525.75 357.5,526.25 383,525.5" stroke="#0a0a0a" stroke-width="1.1" fill="none" stroke-linejoin="round"/><circle cx="281" cy="515.5" r="1.95" fill="#000"/><circle cx="287.38" cy="503" r="1.95" fill="#000"/><circle cx="293.75" cy="514.25" r="1.95" fill="#000"/><circle cx="306.5" cy="526.25" r="1.95" fill="#000"/><circle cx="319.25" cy="516.25" r="1.95" fill="#000"/><circle cx="332" cy="525.75" r="1.95" fill="#000"/><circle cx="357.5" cy="526.25" r="1.95" fill="#000"/><circle cx="383" cy="525.5" r="1.95" fill="#000"/></g>
<g><text x="408.6" y="401.1" font-size="11.3" fill="#1e1e1e" style="stroke-width:0.25px">TLR3 (Poly IC)</text><path d="M408.75 409V542" stroke="#555555" stroke-width="1.3" fill="none"/><path d="M406.55 542H515.75" stroke="#555555" stroke-width="1.3" fill="none"/><text transform="translate(405.15 544.6)" font-size="10" text-anchor="end" fill="#1e1e1e">0</text><text transform="translate(405.15 518.1)" font-size="10" text-anchor="end" fill="#1e1e1e">1</text><text transform="translate(405.15 491.6)" font-size="10" text-anchor="end" fill="#1e1e1e">2</text><text transform="translate(405.15 465.1)" font-size="10" text-anchor="end" fill="#1e1e1e">3</text><text transform="translate(405.15 438.6)" font-size="10" text-anchor="end" fill="#1e1e1e">4</text><text transform="translate(405.15 412.1)" font-size="10" text-anchor="end" fill="#1e1e1e">5</text><path d="M406.55 542H408.75M406.55 515.5H408.75M406.55 489H408.75M406.55 462.5H408.75M406.55 436H408.75M406.55 409.5H408.75" stroke="#555555" stroke-width="1.1" fill="none"/><path d="M408.75 542v3M415.16 542v3M421.56 542v3M427.97 542v3M434.38 542v3M440.78 542v3M447.19 542v3M453.59 542v3M460 542v3M466.41 542v3M472.81 542v3M479.22 542v3M485.62 542v3M492.03 542v3M498.44 542v3M504.84 542v3M511.25 542v3" stroke="#3a3a3a" stroke-width="1" fill="none"/><text transform="translate(415.31 556.55) scale(0.9 1)" font-size="10.2" letter-spacing="0.8" text-anchor="middle" fill="#1e1e1e">3</text><text transform="translate(434.52 556.55) scale(0.9 1)" font-size="10.2" letter-spacing="0.8" text-anchor="middle" fill="#1e1e1e">12</text><text transform="translate(460.15 556.55) scale(0.9 1)" font-size="10.2" letter-spacing="0.8" text-anchor="middle" fill="#1e1e1e">24</text><text transform="translate(485.77 556.55) scale(0.9 1)" font-size="10.2" letter-spacing="0.8" text-anchor="middle" fill="#1e1e1e">36</text><text transform="translate(511.4 556.55) scale(0.9 1)" font-size="10.2" letter-spacing="0.8" text-anchor="middle" fill="#1e1e1e">48</text><text x="440" y="571.85" font-size="10" letter-spacing="0.85" word-spacing="1.3" fill="#1e1e1e">Time (h)</text><path d="M409.75 515.5H515.75" stroke="#2a2a2a" stroke-width="0.9" stroke-dasharray="3.2 3.2" fill="none"/><path d="M415.16 496.25V505.5M413.76 496.25h2.8M413.76 505.5h2.8M421.56 505.5V525M420.16 505.5h2.8M420.16 525h2.8M434.38 487.5V522M432.98 487.5h2.8M432.98 522h2.8M447.19 516.25V528.75M445.79 516.25h2.8M445.79 528.75h2.8M460 490.5V515.5M458.6 490.5h2.8M458.6 515.5h2.8M485.62 489.5V503.75M484.23 489.5h2.8M484.23 503.75h2.8M511.25 492.5V503M509.85 492.5h2.8M509.85 503h2.8" stroke="#4a4a4a" stroke-width="1.15" fill="none"/><polyline points="408.75,515.5 415.16,500.5 421.56,515 434.38,504.5 447.19,522 460,503 485.62,496.25 511.25,498" stroke="#0a0a0a" stroke-width="1.1" fill="none" stroke-linejoin="round"/><circle cx="408.75" cy="515.5" r="1.95" fill="#000"/><circle cx="415.16" cy="500.5" r="1.95" fill="#000"/><circle cx="421.56" cy="515" r="1.95" fill="#000"/><circle cx="434.38" cy="504.5" r="1.95" fill="#000"/><circle cx="447.19" cy="522" r="1.95" fill="#000"/><circle cx="460" cy="503" r="1.95" fill="#000"/><circle cx="485.62" cy="496.25" r="1.95" fill="#000"/><circle cx="511.25" cy="498" r="1.95" fill="#000"/></g>
<g><text x="23.6" y="597.4" font-size="11.3" fill="#1e1e1e" style="stroke-width:0.25px">TNFα</text><path d="M25.5 604.5V738" stroke="#555555" stroke-width="1.3" fill="none"/><path d="M23.3 738H131.25" stroke="#555555" stroke-width="1.3" fill="none"/><text transform="translate(21 740.6)" font-size="10" text-anchor="end" fill="#1e1e1e">0</text><text transform="translate(21 714)" font-size="10" text-anchor="end" fill="#1e1e1e">1</text><text transform="translate(21 687.4)" font-size="10" text-anchor="end" fill="#1e1e1e">2</text><text transform="translate(21 660.8)" font-size="10" text-anchor="end" fill="#1e1e1e">3</text><text transform="translate(21 634.2)" font-size="10" text-anchor="end" fill="#1e1e1e">4</text><text transform="translate(21 607.6)" font-size="10" text-anchor="end" fill="#1e1e1e">5</text><path d="M23.3 738H25.5M23.3 711.4H25.5M23.3 684.8H25.5M23.3 658.2H25.5M23.3 631.6H25.5M23.3 605H25.5" stroke="#555555" stroke-width="1.1" fill="none"/><path d="M25.5 738v3M31.83 738v3M38.16 738v3M44.48 738v3M50.81 738v3M57.14 738v3M63.47 738v3M69.8 738v3M76.12 738v3M82.45 738v3M88.78 738v3M95.11 738v3M101.44 738v3M107.77 738v3M114.09 738v3M120.42 738v3M126.75 738v3" stroke="#3a3a3a" stroke-width="1" fill="none"/><text transform="translate(31.98 751.8) scale(0.9 1)" font-size="10.2" letter-spacing="0.8" text-anchor="middle" fill="#1e1e1e">3</text><text transform="translate(50.96 751.8) scale(0.9 1)" font-size="10.2" letter-spacing="0.8" text-anchor="middle" fill="#1e1e1e">12</text><text transform="translate(76.28 751.8) scale(0.9 1)" font-size="10.2" letter-spacing="0.8" text-anchor="middle" fill="#1e1e1e">24</text><text transform="translate(101.59 751.8) scale(0.9 1)" font-size="10.2" letter-spacing="0.8" text-anchor="middle" fill="#1e1e1e">36</text><text transform="translate(126.9 751.8) scale(0.9 1)" font-size="10.2" letter-spacing="0.8" text-anchor="middle" fill="#1e1e1e">48</text><text x="55" y="766.6" font-size="10" letter-spacing="0.85" word-spacing="1.3" fill="#1e1e1e">Time (h)</text><path d="M26.5 711.4H131.25" stroke="#2a2a2a" stroke-width="0.9" stroke-dasharray="3.2 3.2" fill="none"/><path d="M31.83 696.25V705.5M30.43 696.25h2.8M30.43 705.5h2.8M38.16 635V678.75M36.76 635h2.8M36.76 678.75h2.8M50.81 648.75V673.25M49.41 648.75h2.8M49.41 673.25h2.8M63.47 656.75V665M62.07 656.75h2.8M62.07 665h2.8M76.12 703V716.25M74.72 703h2.8M74.72 716.25h2.8M101.44 719.5V723M100.04 719.5h2.8M100.04 723h2.8M126.75 694.5V720M125.35 694.5h2.8M125.35 720h2.8" stroke="#4a4a4a" stroke-width="1.15" fill="none"/><polyline points="25.5,711.25 31.83,700.5 38.16,657 50.81,660.75 63.47,660.75 76.12,710 101.44,721.25 126.75,707" stroke="#0a0a0a" stroke-width="1.1" fill="none" stroke-linejoin="round"/><circle cx="25.5" cy="711.25" r="1.95" fill="#000"/><circle cx="31.83" cy="700.5" r="1.95" fill="#000"/><circle cx="38.16" cy="657" r="1.95" fill="#000"/><circle cx="50.81" cy="660.75" r="1.95" fill="#000"/><circle cx="63.47" cy="660.75" r="1.95" fill="#000"/><circle cx="76.12" cy="710" r="1.95" fill="#000"/><circle cx="101.44" cy="721.25" r="1.95" fill="#000"/><circle cx="126.75" cy="707" r="1.95" fill="#000"/></g>
<g><text x="153.9" y="597.6" font-size="11.3" fill="#1e1e1e" style="stroke-width:0.25px">IL-1β</text><path d="M158.8 605V737.5" stroke="#555555" stroke-width="1.3" fill="none"/><path d="M156.6 737.5H265.5" stroke="#555555" stroke-width="1.3" fill="none"/><text transform="translate(154.2 740.1)" font-size="10" text-anchor="end" fill="#1e1e1e">0</text><text transform="translate(154.2 713.7)" font-size="10" text-anchor="end" fill="#1e1e1e">1</text><text transform="translate(154.2 687.3)" font-size="10" text-anchor="end" fill="#1e1e1e">2</text><text transform="translate(154.2 660.9)" font-size="10" text-anchor="end" fill="#1e1e1e">3</text><text transform="translate(154.2 634.5)" font-size="10" text-anchor="end" fill="#1e1e1e">4</text><text transform="translate(154.2 608.1)" font-size="10" text-anchor="end" fill="#1e1e1e">5</text><path d="M156.6 737.5H158.8M156.6 711.1H158.8M156.6 684.7H158.8M156.6 658.3H158.8M156.6 631.9H158.8M156.6 605.5H158.8" stroke="#555555" stroke-width="1.1" fill="none"/><path d="M158.8 737.5v3M165.5 737.5v3M172 737.5v3M177.96 737.5v3M185.7 737.5v3M190.74 737.5v3M199 737.5v3M203.51 737.5v3M212.3 737.5v3M216.29 737.5v3M222.68 737.5v3M229.06 737.5v3M238.5 737.5v3M241.84 737.5v3M248.22 737.5v3M254.61 737.5v3M261 737.5v3" stroke="#3a3a3a" stroke-width="1" fill="none"/><text transform="translate(165.35 751.8) scale(0.9 1)" font-size="10.2" letter-spacing="0.8" text-anchor="middle" fill="#1e1e1e">3</text><text transform="translate(185.55 751.8) scale(0.9 1)" font-size="10.2" letter-spacing="0.8" text-anchor="middle" fill="#1e1e1e">12</text><text transform="translate(210.75 751.8) scale(0.9 1)" font-size="10.2" letter-spacing="0.8" text-anchor="middle" fill="#1e1e1e">24</text><text transform="translate(236.75 751.8) scale(0.9 1)" font-size="10.2" letter-spacing="0.8" text-anchor="middle" fill="#1e1e1e">36</text><text transform="translate(260.95 751.8) scale(0.9 1)" font-size="10.2" letter-spacing="0.8" text-anchor="middle" fill="#1e1e1e">48</text><text x="188" y="767.35" font-size="10" letter-spacing="0.85" word-spacing="1.3" fill="#1e1e1e">Time (h)</text><path d="M159.8 711.1H265.5" stroke="#2a2a2a" stroke-width="0.9" stroke-dasharray="3.2 3.2" fill="none"/><path d="M172 634.25V663M170.6 634.25h2.8M170.6 663h2.8M185.7 690V708.75M184.3 690h2.8M184.3 708.75h2.8M199 717.5V722M197.6 717.5h2.8M197.6 722h2.8M212.3 720.5V724.5M210.9 720.5h2.8M210.9 724.5h2.8M238.5 703.75V709.25M237.1 703.75h2.8M237.1 709.25h2.8" stroke="#4a4a4a" stroke-width="1.15" fill="none"/><polyline points="158.8,711.25 165.5,668.25 172,648.75 185.7,699.5 199,719.5 212.3,722.5 238.5,707 261,722" stroke="#0a0a0a" stroke-width="1.1" fill="none" stroke-linejoin="round"/><circle cx="158.8" cy="711.25" r="1.95" fill="#000"/><circle cx="165.5" cy="668.25" r="1.95" fill="#000"/><circle cx="172" cy="648.75" r="1.95" fill="#000"/><circle cx="185.7" cy="699.5" r="1.95" fill="#000"/><circle cx="199" cy="719.5" r="1.95" fill="#000"/><circle cx="212.3" cy="722.5" r="1.95" fill="#000"/><circle cx="238.5" cy="707" r="1.95" fill="#000"/><circle cx="261" cy="722" r="1.95" fill="#000"/></g>
<text transform="translate(10.3 92.3) rotate(-90)" x="0" y="0" font-size="10" letter-spacing="1.15" text-anchor="middle" fill="#2a2a2a" style="stroke-width:0.2px">B7-H6 mRNA ratio</text>
<text transform="translate(10.3 284) rotate(-90)" x="0" y="0" font-size="10" letter-spacing="1.15" text-anchor="middle" fill="#2a2a2a" style="stroke-width:0.2px">B7-H6 mRNA ratio</text>
<text transform="translate(10.3 474.3) rotate(-90)" x="0" y="0" font-size="10" letter-spacing="1.15" text-anchor="middle" fill="#2a2a2a" style="stroke-width:0.2px">B7-H6 mRNA ratio</text>
<text transform="translate(10.3 671.8) rotate(-90)" x="0" y="0" font-size="10" letter-spacing="1.15" text-anchor="middle" fill="#2a2a2a" style="stroke-width:0.2px">B7-H6 mRNA ratio</text>
</svg></body></html>
